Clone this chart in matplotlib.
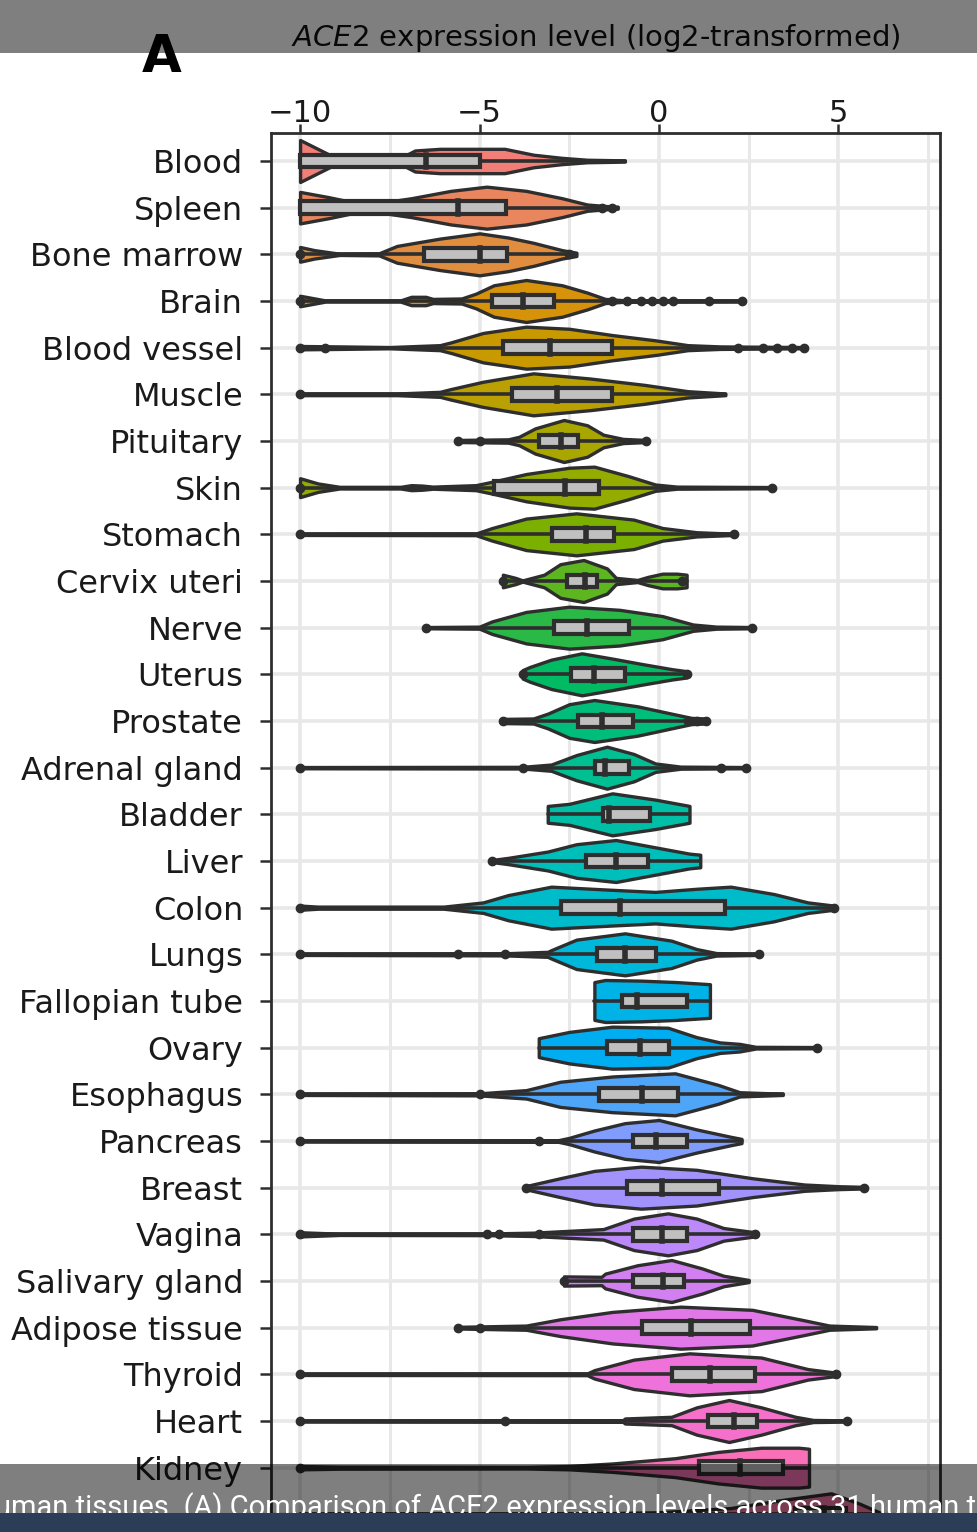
import numpy as np
import matplotlib.pyplot as plt
from matplotlib.patches import Rectangle

tissues = ['Blood', 'Spleen', 'Bone marrow', 'Brain', 'Blood vessel', 'Muscle',
           'Pituitary', 'Skin', 'Stomach', 'Cervix uteri', 'Nerve', 'Uterus',
           'Prostate', 'Adrenal gland', 'Bladder', 'Liver', 'Colon', 'Lungs',
           'Fallopian tube', 'Ovary', 'Esophagus', 'Pancreas', 'Breast', 'Vagina',
           'Salivary gland', 'Adipose tissue', 'Thyroid', 'Heart', 'Kidney',
           'Testis', 'Small intestine']
n_visible_labels = 29  # the last two rows sit under the screenshot's caption bar

# box summaries (log2 expression)
q1 = [-10, -10, -6.55, -4.65, -4.35, -4.1, -3.34, -4.6, -2.98, -2.57, -2.92, -2.45,
      -2.27, -1.79, -1.56, -2.03, -2.74, -1.73, -1.02, -1.44, -1.67, -0.72, -0.9,
      -0.72, -0.72, -0.48, 0.35, 1.36, 1.12, 3.8, 3.2]
med = [-6.5, -5.6, -5.0, -3.8, -3.04, -2.84, -2.74, -2.63, -2.03, -2.05, -2.0, -1.8,
       -1.58, -1.5, -1.4, -1.2, -1.08, -0.96, -0.6, -0.54, -0.48, -0.07, 0.09,
       0.09, 0.11, 0.89, 1.42, 2.08, 2.26, 4.6, 4.2]
q3 = [-5.0, -4.25, -4.23, -2.92, -1.32, -1.32, -2.27, -1.67, -1.26, -1.73, -0.84, -0.96,
      -0.72, -0.84, -0.24, -0.3, 1.84, -0.07, 0.77, 0.29, 0.53, 0.77, 1.66,
      0.77, 0.71, 2.55, 2.67, 2.73, 3.45, 5.2, 5.0]

# violin outline: x knots and relative half widths
prof_x = [
    [-10, -8.9, -7.3, -6.8, -6.1, -4.3, -3.5, -2.7, -2.0, -0.95],
    [-10, -9.2, -8.5, -7.7, -6.9, -5.8, -4.8, -3.7, -2.7, -2.0, -1.5, -1.15],
    [-10, -9.6, -8.9, -7.8, -7.3, -6.1, -5.0, -4.2, -3.5, -2.7, -2.3],
    [-10, -9.3, -7.2, -6.9, -6.5, -6.3, -5.5, -5.1, -4.6, -3.7, -2.7, -2.0, -1.5, -1.0, 2.3],
    [-10, -8.9, -7.5, -6.1, -5.8, -4.9, -3.7, -2.5, -1.3, -0.1, 0.8, 1.7, 4.05],
    [-10, -7.3, -6.1, -5.8, -4.9, -3.5, -1.9, -0.4, 0.8, 1.85],
    [-5.6, -4.2, -3.9, -3.45, -2.65, -2.0, -1.55, -1.0, -0.35],
    [-10, -9.5, -8.9, -7.2, -6.9, -6.6, -6.3, -5.1, -4.6, -3.7, -2.5, -1.8, -0.85, -0.1, 0.5, 3.15],
    [-10, -5.1, -4.65, -3.7, -2.3, -0.7, 0.1, 1.05, 2.1],
    [-4.35, -4.0, -3.8, -3.2, -2.75, -2.1, -1.45, -1.2, -0.6, -0.3, 0.1, 0.5, 0.77],
    [-6.5, -5.0, -4.65, -3.7, -2.5, -1.1, 0.1, 0.95, 1.6, 2.6],
    [-3.8, -3.6, -3.0, -2.15, -1.3, -0.5, 0.35, 0.77],
    [-4.35, -3.5, -3.1, -2.5, -1.8, -0.6, 0.35, 0.9, 1.3],
    [-10, -3.8, -3.0, -2.3, -1.45, -0.7, -0.1, 0.6, 2.45],
    [-3.1, -2.5, -1.3, -0.1, 0.85],
    [-4.65, -4.2, -3.1, -2.3, -1.2, -0.1, 0.85, 1.15],
    [-10, -9.5, -6.0, -4.9, -4.2, -3.0, -1.3, -0.1, 1.05, 2.0, 3.2, 4.15, 4.87],
    [-10, -4.3, -3.1, -3.0, -2.3, -0.95, 0.35, 1.05, 1.6, 2.8],
    [-1.8, -1.5, -0.5, 0.5, 1.42],
    [-3.35, -2.5, -1.3, 0.25, 1.05, 1.7, 2.25, 2.7, 4.4],
    [-10, -5.0, -3.7, -2.75, -1.3, 0.45, 1.65, 2.25, 3.45],
    [-10, -2.8, -2.5, -1.8, -0.95, 0.0, 1.05, 2.0, 2.3],
    [-3.7, -2.75, -1.8, -0.5, 1.05, 2.6, 4.05, 5.0, 5.7],
    [-10, -8.9, -4.8, -3.5, -1.55, -0.7, 0.25, 1.05, 1.8, 2.67],
    [-2.65, -1.6, -1.5, -0.6, 0.35, 1.2, 1.8, 2.5],
    [-5.6, -3.7, -2.75, -1.3, 0.6, 2.6, 4.05, 4.75, 6.05],
    [-10, -2.0, -1.8, -0.7, 0.85, 2.85, 4.15, 4.93],
    [-10, -1.0, -0.95, 0.35, 1.05, 1.95, 2.85, 3.8, 4.3, 5.23],
    [-10, -8.9, -3.7, -2.5, -1.3, 0.45, 1.65, 2.85, 3.9, 4.18],
    [-10, -2.0, 0.0, 2.0, 3.5, 4.8, 5.6, 6.2],
    [-10, 0.0, 2.0, 4.0, 5.5, 6.3],
]
prof_w = [
    [1.0, 0.06, 0.06, 0.5, 0.58, 0.58, 0.3, 0.15, 0.06, 0.03],
    [0.75, 0.5, 0.25, 0.25, 0.45, 0.8, 1.0, 0.8, 0.45, 0.15, 0.08, 0.05],
    [0.35, 0.2, 0.03, 0.05, 0.4, 0.75, 1.0, 0.8, 0.55, 0.2, 0.08],
    [0.25, 0.03, 0.03, 0.2, 0.2, 0.1, 0.12, 0.35, 0.75, 1.0, 0.75, 0.4, 0.1, 0.04, 0.03],
    [0.08, 0.06, 0.03, 0.12, 0.25, 0.7, 1.0, 0.9, 0.6, 0.35, 0.12, 0.06, 0.03],
    [0.04, 0.04, 0.12, 0.25, 0.6, 1.0, 0.75, 0.45, 0.15, 0.04],
    [0.05, 0.08, 0.2, 0.6, 1.0, 0.75, 0.3, 0.1, 0.05],
    [0.45, 0.2, 0.04, 0.04, 0.12, 0.1, 0.05, 0.12, 0.3, 0.65, 0.95, 1.0, 0.55, 0.15, 0.05, 0.03],
    [0.03, 0.04, 0.3, 0.75, 1.0, 0.7, 0.3, 0.1, 0.03],
    [0.3, 0.15, 0.03, 0.3, 0.8, 1.0, 0.6, 0.15, 0.05, 0.2, 0.35, 0.35, 0.3],
    [0.03, 0.05, 0.3, 0.75, 1.0, 0.85, 0.55, 0.15, 0.05, 0.03],
    [0.2, 0.35, 0.7, 1.0, 0.75, 0.5, 0.25, 0.15],
    [0.1, 0.12, 0.35, 0.8, 1.0, 0.7, 0.35, 0.15, 0.12],
    [0.03, 0.04, 0.15, 0.6, 1.0, 0.65, 0.2, 0.05, 0.03],
    [0.4, 0.5, 1.0, 0.7, 0.4],
    [0.05, 0.15, 0.45, 0.8, 1.0, 0.65, 0.35, 0.3],
    [0.1, 0.05, 0.05, 0.25, 0.6, 1.0, 0.85, 0.75, 0.9, 1.0, 0.65, 0.25, 0.1],
    [0.03, 0.05, 0.12, 0.2, 0.7, 1.0, 0.65, 0.25, 0.06, 0.03],
    [0.9, 1.0, 0.97, 0.9, 0.8],
    [0.45, 0.75, 1.0, 0.95, 0.5, 0.25, 0.18, 0.04, 0.03],
    [0.03, 0.05, 0.2, 0.6, 0.85, 1.0, 0.45, 0.1, 0.03],
    [0.03, 0.04, 0.15, 0.5, 0.85, 1.0, 0.55, 0.2, 0.1],
    [0.08, 0.45, 0.8, 1.0, 0.85, 0.45, 0.15, 0.07, 0.04],
    [0.1, 0.03, 0.04, 0.08, 0.25, 0.75, 1.0, 0.75, 0.3, 0.1],
    [0.22, 0.2, 0.35, 0.75, 1.0, 0.6, 0.25, 0.05],
    [0.04, 0.1, 0.4, 0.75, 1.0, 0.85, 0.35, 0.1, 0.03],
    [0.03, 0.04, 0.2, 0.7, 1.0, 0.8, 0.25, 0.08],
    [0.03, 0.04, 0.12, 0.2, 0.65, 1.0, 0.65, 0.2, 0.05, 0.03],
    [0.08, 0.05, 0.04, 0.08, 0.2, 0.45, 0.75, 0.95, 0.95, 0.9],
    [0.03, 0.04, 0.1, 0.3, 0.7, 1.0, 0.5, 0.05],
    [0.03, 0.1, 0.5, 1.0, 0.5, 0.05],
]
outliers = [
    [], [-1.6, -1.3], [-10, -2.5], [-10, -1.3, -0.9, -0.5, -0.2, 0.1, 0.4, 1.4, 2.3],
    [-10, -9.3, 2.2, 2.9, 3.3, 3.7, 4.05], [-10], [-5.6, -5.0, -0.35], [-10, 3.15],
    [-10, 2.1], [-4.35, 0.65], [-6.5, 2.6], [-3.8, 0.77], [-4.35, 0.8, 1.05, 1.3],
    [-10, -3.8, 1.72, 2.43], [], [-4.65], [-10, 4.87], [-10, -5.6, -4.3, 2.8], [],
    [4.4], [-10, -5.0], [-10, -3.35], [-3.7, 5.7], [-10, -4.8, -4.45, -3.35, 2.67],
    [-2.65], [-5.6, -5.0], [-10, 4.93], [-10, -4.3, 5.23], [-10], [], [],
]


def hue_pal(n, l=66.0, c=86.0, h0=15.0):
    # ggplot2-style discrete palette (polar LUV -> sRGB)
    xn, yn, zn = 95.047, 100.0, 108.883
    un = 4 * xn / (xn + 15 * yn + 3 * zn)
    vn = 9 * yn / (xn + 15 * yn + 3 * zn)
    m = np.array([[3.2404542, -1.5371385, -0.4985314],
                  [-0.9692660, 1.8760108, 0.0415560],
                  [0.0556434, -0.2040259, 1.0572252]])
    out = []
    for h in np.linspace(h0, h0 + 360, n + 1)[:-1]:
        u = c * np.cos(np.radians(h))
        v = c * np.sin(np.radians(h))
        Y = yn * ((l + 16) / 116) ** 3
        up = u / (13 * l) + un
        vp = v / (13 * l) + vn
        X = Y * 9 * up / (4 * vp)
        Z = Y * (12 - 3 * up - 20 * vp) / (4 * vp)
        rgb = m @ (np.array([X, Y, Z]) / 100)
        rgb = np.where(rgb <= 0.0031308, 12.92 * rgb, 1.055 * np.abs(rgb) ** (1 / 2.4) - 0.055)
        out.append(tuple(np.clip(rgb, 0, 1)))
    return out


cols = hue_pal(len(tissues))
dark = '#2e2e2e'

W, H = 978, 1532
fig = plt.figure(figsize=(W / 100, H / 100), dpi=100)
ax = fig.add_axes([271 / W, 1 - 1589 / H, 669 / W, 1456 / H])

for i, t in enumerate(tissues):
    y = i + 1
    xs = np.array(prof_x[i])
    ws = np.array(prof_w[i]) * 0.45
    ax.fill_between(xs, y - ws, y + ws, facecolor=cols[i], edgecolor=dark,
                    linewidth=2.4, zorder=3)
    ax.plot([xs[0], xs[-1]], [y, y], color=dark, lw=2.6, zorder=4,
            solid_capstyle='round')
    ax.add_patch(Rectangle((q1[i], y - 0.135), q3[i] - q1[i], 0.27,
                           facecolor='#c0c0c0', edgecolor=dark, lw=3.0, zorder=5))
    ax.plot([med[i], med[i]], [y - 0.135, y + 0.135], color=dark, lw=4, zorder=6)
    if outliers[i]:
        ax.plot(outliers[i], [y] * len(outliers[i]), 'o', color=dark, ms=6, zorder=6)

ax.set_xlim(-10.81, 7.83)
ax.set_ylim(31.6, 0.4)
ax.xaxis.tick_top()
ax.set_xticks([-10, -5, 0, 5])
ax.set_xticklabels(['\u221210', '\u22125', '0', '5'])
ax.set_xticks([-7.5, -2.5, 2.5, 7.5], minor=True)
ax.set_yticks(range(1, len(tissues) + 1))
ax.set_yticklabels([t if i < n_visible_labels else '' for i, t in enumerate(tissues)])
ax.tick_params(axis='x', which='major', length=6.5, width=1.8, color=dark,
               labelsize=22, pad=-3, labelcolor='#1a1a1a')
ax.tick_params(axis='x', which='minor', length=0)
ax.tick_params(axis='y', length=8, width=1.8, color=dark, labelsize=23,
               pad=12, labelcolor='#1a1a1a')
ax.grid(True, which='major', color='#e8e8e8', lw=2.6)
ax.grid(True, which='minor', axis='x', color='#e8e8e8', lw=2.2)
ax.set_axisbelow(True)
for s in ax.spines.values():
    s.set_linewidth(2.0)
    s.set_color(dark)

# screenshot overlays drawn in pixel coordinates
ov = fig.add_axes([0, 0, 1, 1], zorder=10)
ov.set_xlim(0, W)
ov.set_ylim(H, 0)
ov.axis('off')
ov.patch.set_visible(False)
ov.text(596, 38, r'$\mathit{ACE2}$ expression level (log2-transformed)',
        ha='center', va='center', fontsize=21, color='#111111', zorder=1)
ov.text(162, 58, 'A', ha='center', va='center', fontsize=37,
        fontweight='bold', color='black', zorder=1)
ov.add_patch(Rectangle((0, 0), W, 53, facecolor='black', alpha=0.5, lw=0, zorder=2))
ov.add_patch(Rectangle((0, 1464), W, 50, facecolor='black', alpha=0.5, lw=0, zorder=2))
ov.text(-21, 1516, 'human tissues. (A) Comparison of ACE2 expression levels across 31 human tissues',
        ha='left', va='baseline', fontsize=20.9, color='white', family='Roboto', zorder=3)
ov.add_patch(Rectangle((0, 1513), W, 20, facecolor='#2c3d57', lw=0, zorder=4))

fig.savefig('out.png', dpi=100)
